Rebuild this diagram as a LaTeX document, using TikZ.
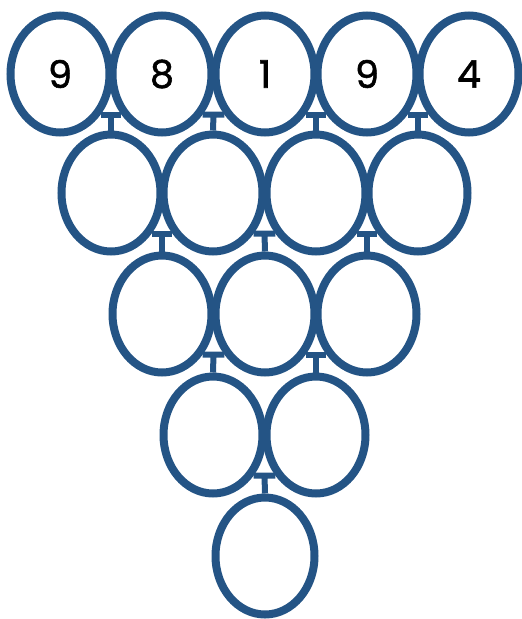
\documentclass[tikz,border=0pt]{standalone}
\usepackage{fontspec}
\setmainfont{Poppins}
\newfontfamily\digitfont{Poppins}[FakeBold=1.5]
\usetikzlibrary{calc}
\usetikzlibrary{shapes.geometric}
\definecolor{ringblue}{RGB}{36,84,133}
\tikzset{
    x=1pt, y=-1pt,
    ring/.style={
        ellipse,
        draw=ringblue,
        line width=8pt,
        fill=white,
        minimum width=99pt,
        minimum height=117pt,
        inner sep=0pt,
        font=\digitfont\fontsize{38}{38}\selectfont
    },
    link/.style={
        draw=ringblue,
        line width=6pt
    }
}

\begin{document}
\begin{tikzpicture}
    \useasboundingbox (0,0) rectangle (522,619);

    % top row
    \node[ring] (a1) at (60,74) {9};
    \node[ring] (a2) at (162,74) {8};
    \node[ring] (a3) at (265,74) {1};
    \node[ring] (a4) at (367,74) {9};
    \node[ring] (a5) at (469,74) {4};

    \node[ring] (b1) at (111,193) {};
    \node[ring] (b2) at (213,193) {};
    \node[ring] (b3) at (316,193) {};
    \node[ring] (b4) at (418,193) {};

    \node[ring] (c1) at (162,314) {};
    \node[ring] (c2) at (265,314) {};
    \node[ring] (c3) at (367,314) {};

    \node[ring] (d1) at (213,435) {};
    \node[ring] (d2) at (316,435) {};

    \node[ring] (e1) at (265,556) {};

    % T-shaped links
    \draw[link] (a1.-45) -- (a2.-135) ($(a1.-45)!.5!(a2.-135)$) -- (b1.north);
    \draw[link] (a2.-45) -- (a3.-135) ($(a2.-45)!.5!(a3.-135)$) -- (b2.north);
    \draw[link] (a3.-45) -- (a4.-135) ($(a3.-45)!.5!(a4.-135)$) -- (b3.north);
    \draw[link] (a4.-45) -- (a5.-135) ($(a4.-45)!.5!(a5.-135)$) -- (b4.north);

    \draw[link] (b1.-45) -- (b2.-135) ($(b1.-45)!.5!(b2.-135)$) -- (c1.north);
    \draw[link] (b2.-45) -- (b3.-135) ($(b2.-45)!.5!(b3.-135)$) -- (c2.north);
    \draw[link] (b3.-45) -- (b4.-135) ($(b3.-45)!.5!(b4.-135)$) -- (c3.north);

    \draw[link] (c1.-45) -- (c2.-135) ($(c1.-45)!.5!(c2.-135)$) -- (d1.north);
    \draw[link] (c2.-45) -- (c3.-135) ($(c2.-45)!.5!(c3.-135)$) -- (d2.north);

    \draw[link] (d1.-45) -- (d2.-135) ($(d1.-45)!.5!(d2.-135)$) -- (e1.north);
\end{tikzpicture}
\end{document}
